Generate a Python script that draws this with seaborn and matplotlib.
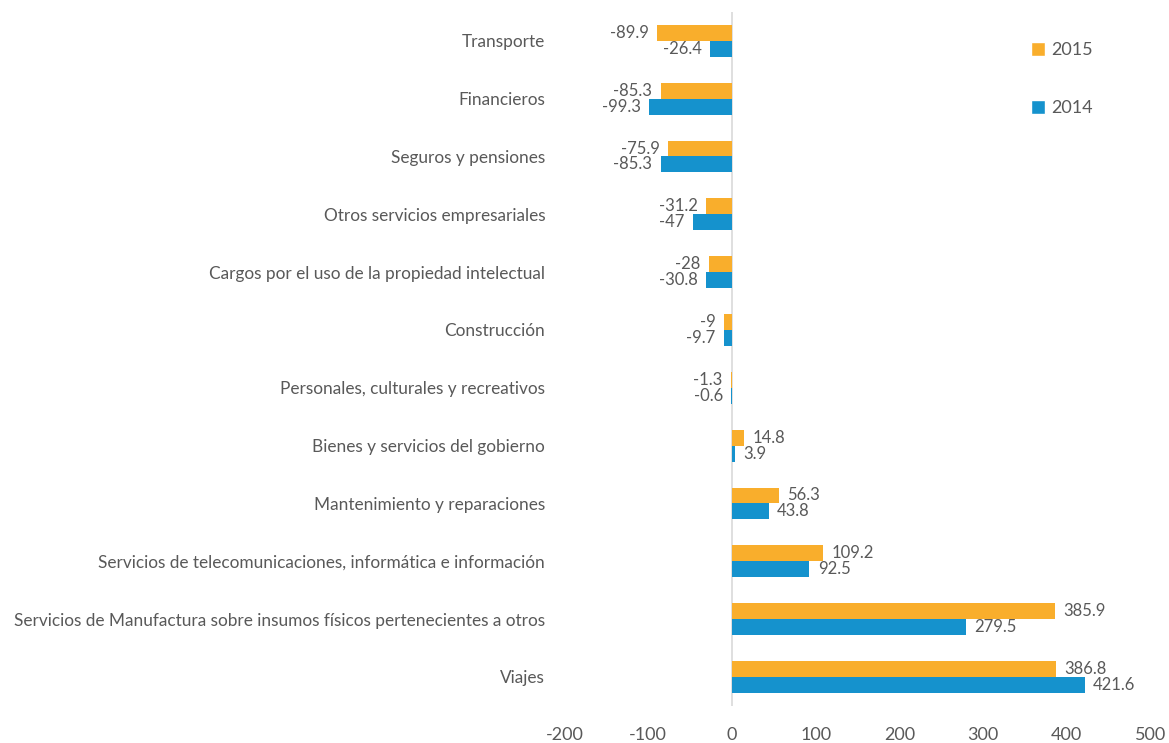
import pandas as pd
import seaborn as sns
import numpy as np
import matplotlib.pyplot as plt
from matplotlib.patches import Patch

# data
categories = [
    "Transporte",
    "Financieros",
    "Seguros y pensiones",
    "Otros servicios empresariales",
    "Cargos por el uso de la propiedad intelectual",
    "Construcción",
    "Personales, culturales y recreativos",
    "Bienes y servicios del gobierno",
    "Mantenimiento y reparaciones",
    "Servicios de telecomunicaciones, informática e información",
    "Servicios de Manufactura sobre insumos físicos pertenecientes a otros",
    "Viajes",
]
values_2015 = [-89.9, -85.3, -75.9, -31.2, -28, -9, -1.3, 14.8, 56.3, 109.2, 385.9, 386.8]
values_2014 = [-26.4, -99.3, -85.3, -47, -30.8, -9.7, -0.6, 3.9, 43.8, 92.5, 279.5, 421.6]
years = ["2015", "2014"]
x_ticks = [-200, -100, 0, 100, 200, 300, 400, 500]

df = pd.DataFrame({
    "Categoria": categories * 2,
    "Valor": values_2015 + values_2014,
    "Año": [years[0]] * len(categories) + [years[1]] * len(categories),
})

colors = {"2015": "#F9AE2C", "2014": "#1592CD"}
text_color = "#595959"

sns.set_style("white")
plt.rcParams['font.family'] = ['Lato', 'DejaVu Sans']
plt.rcParams['axes.unicode_minus'] = False

fig = plt.figure(figsize=(11.69, 7.43), dpi=100)
ax = fig.add_axes([0.483, 0.050, 0.501, 0.934])

sns.barplot(ax=ax, data=df, x="Valor", y="Categoria", hue="Año", hue_order=years,
            order=categories, palette=colors, orient="h", width=0.55,
            saturation=1, legend=False, linewidth=0)

# value labels
for cont, vals in zip(ax.containers, [values_2015, values_2014]):
    ax.bar_label(cont, labels=[f"{v:g}" for v in vals], padding=6,
                 fontsize=12, color=text_color)

ax.set_xlim(-200, 500)
ax.set_ylim(len(categories) - 0.5, -0.5)
ax.set_xticks(x_ticks)
ax.set_xlabel("")
ax.set_ylabel("")
ax.tick_params(axis="x", length=0, labelsize=13, colors=text_color, pad=15)
ax.tick_params(axis="y", length=0, labelsize=12.4, colors=text_color, pad=14)
for s in ax.spines.values():
    s.set_visible(False)
ax.axvline(0, color="#D9D9D9", lw=1.2, zorder=0)

handles = [Patch(facecolor=colors[y], label=y) for y in years]
fig.legend(handles=handles, loc="upper left", bbox_to_anchor=(0.868, 0.965),
           frameon=False, fontsize=13, handlelength=0.8, handleheight=0.8,
           handletextpad=0.3, labelspacing=2.3, labelcolor=text_color)

plt.savefig("out.png", dpi=100)
